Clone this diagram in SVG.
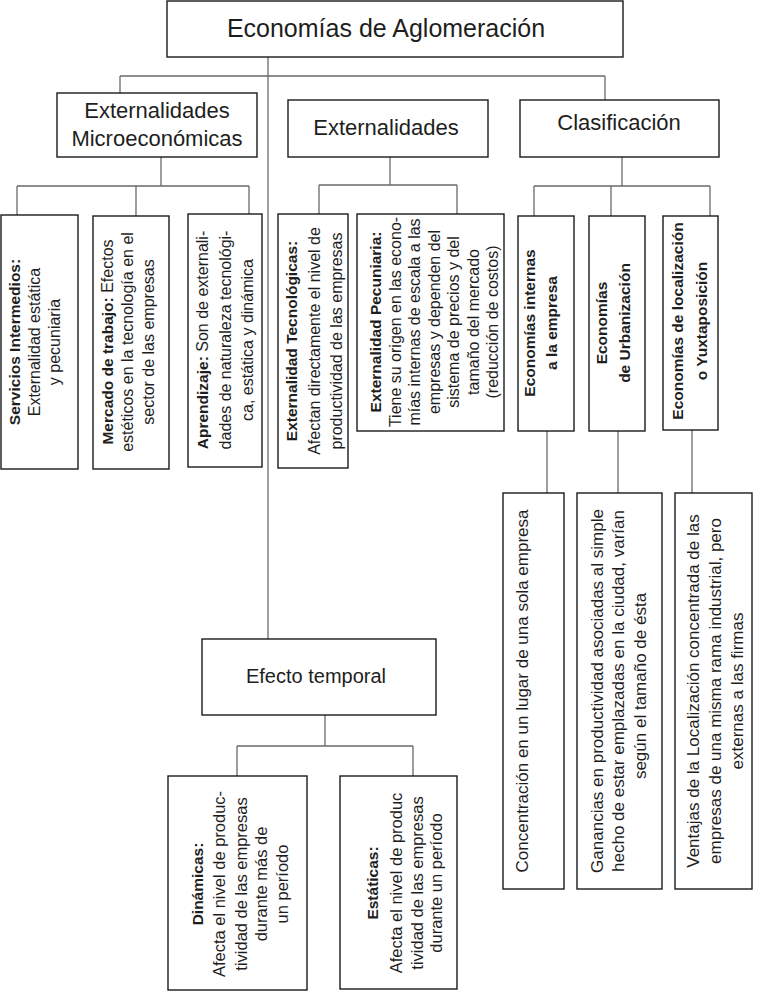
<svg xmlns="http://www.w3.org/2000/svg" width="757" height="992" viewBox="0 0 757 992">
<style>
.bg{fill:#fff}
.box{fill:#fff;stroke:#1a1a1a;stroke-width:1.4}
.conn{fill:none;stroke:#6a6a6a;stroke-width:1.3}
.t{font-family:"Liberation Sans",Arial,sans-serif;fill:#1e1e1e}
.title{font-size:25px}
.h{font-size:22px}
.s{font-size:16px}
.m{font-size:17px}
.d{font-size:16.5px}
.b{font-weight:bold;font-size:15.5px}
</style>
<rect class="bg" x="0" y="0" width="757" height="992"/>
<g id="connectors">
<path class="conn" d="M268,57 V639"/>
<path class="conn" d="M120,76 H605 M120,76 V93 M605,76 V100"/>
<path class="conn" d="M161,157 V186 M17,186 H249 M17,186 V215 M136,186 V216 M249,186 V214"/>
<path class="conn" d="M390,157 V185 M319,185 H457 M319,185 V214 M457,185 V214"/>
<path class="conn" d="M622,157 V186 M534,186 H710 M534,186 V216 M611,186 V216 M710,186 V216"/>
<path class="conn" d="M547,431 V493 M618,431 V493 M692,430 V493"/>
<path class="conn" d="M325,715 V746 M237,746 H413 M237,746 V776 M413,746 V776"/>
</g>
<g id="n-root">
<rect class="box" x="167" y="1" width="456" height="56"/>
<text class="t title" x="386" y="37" text-anchor="middle">Economías de Aglomeración</text>
</g>
<g id="n-micro">
<rect class="box" x="57" y="93" width="200" height="64"/>
<text class="t h" x="157" y="118" text-anchor="middle">Externalidades</text>
<text class="t h" x="157" y="146" text-anchor="middle">Microeconómicas</text>
</g>
<g id="n-ext">
<rect class="box" x="288" y="100" width="200" height="57"/>
<text class="t h" x="386" y="135" text-anchor="middle">Externalidades</text>
</g>
<g id="n-clas">
<rect class="box" x="520" y="100" width="199" height="57"/>
<text class="t h" x="619" y="130" text-anchor="middle">Clasificación</text>
</g>
<g id="n-servicios">
<rect class="box" x="1" y="215" width="77" height="254"/>
<g class="t" text-anchor="middle">
<text class="b" transform="translate(20,342) rotate(-90)">Servicios Intermedios:</text>
<text class="s" transform="translate(40,342) rotate(-90)">Externalidad estática</text>
<text class="s" transform="translate(60,342) rotate(-90)">y pecuniaria</text>
</g>
</g>
<g id="n-mercado">
<rect class="box" x="93" y="216" width="76" height="253"/>
<g class="t" text-anchor="middle">
<text class="s" transform="translate(113,342) rotate(-90)"><tspan class="b">Mercado de trabajo:</tspan> Efectos</text>
<text class="s" transform="translate(133,342) rotate(-90)">estéticos en la tecnología en el</text>
<text class="s" transform="translate(154,342) rotate(-90)">sector de las empresas</text>
</g>
</g>
<g id="n-aprendizaje">
<rect class="box" x="188" y="214" width="74" height="253"/>
<g class="t" text-anchor="middle">
<text class="s" transform="translate(208,340) rotate(-90)"><tspan class="b">Aprendizaje:</tspan> Son de externali-</text>
<text class="s" transform="translate(231,340) rotate(-90)">dades de naturaleza tecnológi-</text>
<text class="s" transform="translate(253,340) rotate(-90)">ca, estática y dinámica</text>
</g>
</g>
<g id="n-tecnologicas">
<rect class="box" x="278" y="214" width="70" height="254"/>
<g class="t" text-anchor="middle">
<text class="b" transform="translate(297,341) rotate(-90)">Externalidad Tecnológicas:</text>
<text class="s" transform="translate(320,341) rotate(-90)">Afectan directamente el nivel de</text>
<text class="s" transform="translate(342,341) rotate(-90)">productividad de las empresas</text>
</g>
</g>
<g id="n-pecuniaria">
<rect class="box" x="357" y="214" width="147" height="217"/>
<g class="t" text-anchor="middle">
<text class="b" transform="translate(381,322) rotate(-90)">Externalidad Pecuniaria:</text>
<text class="s" transform="translate(401,322) rotate(-90)">Tiene su origen en las econo-</text>
<text class="s" transform="translate(420,322) rotate(-90)">mías internas de escala a las</text>
<text class="s" transform="translate(440,322) rotate(-90)">empresas y dependen del</text>
<text class="s" transform="translate(459,322) rotate(-90)">sistema de precios y del</text>
<text class="s" transform="translate(479,322) rotate(-90)">tamaño del mercado</text>
<text class="s" transform="translate(498,322) rotate(-90)">(reducción de costos)</text>
</g>
</g>
<g id="n-internas">
<rect class="box" x="518" y="216" width="56" height="215"/>
<g class="t b" text-anchor="middle">
<text transform="translate(535,323) rotate(-90)">Economías internas</text>
<text transform="translate(557,323) rotate(-90)">a la empresa</text>
</g>
</g>
<g id="n-urbanizacion">
<rect class="box" x="589" y="216" width="56" height="215"/>
<g class="t b" text-anchor="middle">
<text transform="translate(607,323) rotate(-90)">Economías</text>
<text transform="translate(630,323) rotate(-90)">de Urbanización</text>
</g>
</g>
<g id="n-localizacion">
<rect class="box" x="663" y="216" width="55" height="214"/>
<g class="t b" text-anchor="middle">
<text transform="translate(683,321) rotate(-90)">Economías de localización</text>
<text transform="translate(707,321) rotate(-90)">o Yuxtaposición</text>
</g>
</g>
<g id="n-concentracion">
<rect class="box" x="503" y="493" width="61" height="396"/>
<text class="t m" text-anchor="middle" transform="translate(528,691) rotate(-90)">Concentración en un lugar de una sola empresa</text>
</g>
<g id="n-ganancias">
<rect class="box" x="577" y="493" width="85" height="396"/>
<g class="t m" text-anchor="middle">
<text transform="translate(603,691) rotate(-90)">Ganancias en productividad asociadas al simple</text>
<text transform="translate(624,691) rotate(-90)">hecho de estar emplazadas en la ciudad, varían</text>
<text transform="translate(646,686) rotate(-90)">según el tamaño de ésta</text>
</g>
</g>
<g id="n-ventajas">
<rect class="box" x="675" y="493" width="77" height="396"/>
<g class="t m" text-anchor="middle">
<text transform="translate(699,691) rotate(-90)">Ventajas de la Localización concentrada de las</text>
<text transform="translate(721,691) rotate(-90)">empresas de una misma rama industrial, pero</text>
<text transform="translate(743,691) rotate(-90)">externas a las firmas</text>
</g>
</g>
<g id="n-efecto">
<rect class="box" x="202" y="639" width="234" height="76"/>
<text class="t" font-size="20" x="316" y="683" text-anchor="middle">Efecto temporal</text>
</g>
<g id="n-dinamicas">
<rect class="box" x="168" y="776" width="139" height="214"/>
<g class="t d" text-anchor="middle">
<text class="b" transform="translate(203,884) rotate(-90)">Dinámicas:</text>
<text transform="translate(225,884) rotate(-90)">Afecta el nivel de produc-</text>
<text transform="translate(247,884) rotate(-90)">tividad de las empresas</text>
<text transform="translate(267,884) rotate(-90)">durante más de</text>
<text transform="translate(288,884) rotate(-90)">un período</text>
</g>
</g>
<g id="n-estaticas">
<rect class="box" x="340" y="776" width="117" height="213"/>
<g class="t d" text-anchor="middle">
<text class="b" transform="translate(378,883) rotate(-90)">Estáticas:</text>
<text transform="translate(402,883) rotate(-90)">Afecta el nivel de produc</text>
<text transform="translate(423,883) rotate(-90)">tividad de las empresas</text>
<text transform="translate(442,883) rotate(-90)">durante un período</text>
</g>
</g>
</svg>
